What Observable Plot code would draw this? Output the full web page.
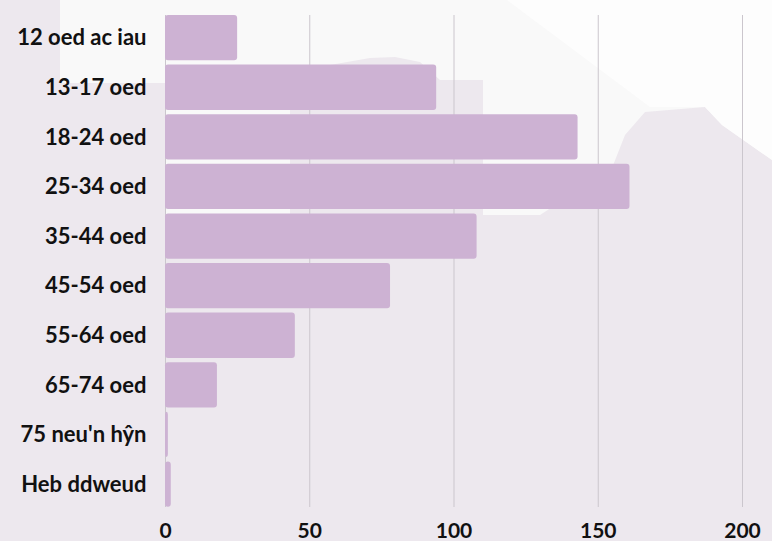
<!DOCTYPE html>
<html>
<head>
<meta charset="utf-8">
<script src="https://cdn.jsdelivr.net/npm/d3@7"></script>
<script src="https://cdn.jsdelivr.net/npm/@observablehq/plot@0.6"></script>
<style>
  html, body { margin: 0; padding: 0; }
  body { width: 772px; height: 541px; background: #ede8ee; position: relative; overflow: hidden; }
  #bg { position: absolute; left: 0; top: 0; width: 772px; height: 541px; background: #f9f9f9;
    clip-path: polygon(60px 0, 772px 0, 772px 160px, 722px 125px, 705px 107px, 645px 112px, 625px 135px, 612px 168px, 540px 215px, 483px 215px, 483px 80px, 440px 80px, 420px 62px, 395px 57px, 370px 58px, 330px 65px, 290px 80px, 290px 215px, 165px 215px, 165px 83px, 60px 83px); }
  #bg2 { position: absolute; left: 0; top: 0; width: 772px; height: 541px; background: #fdfdfd;
    clip-path: polygon(507px 0, 772px 0, 772px 160px, 722px 125px, 705px 107px, 650px 107px); }
  #chart { position: absolute; left: 0; top: 0; }
</style>
</head>
<body>
<div id="bg"></div>
<div id="bg2"></div>
<div id="chart"></div>
<script>
const categories = ["12 oed ac iau", "13-17 oed", "18-24 oed", "25-34 oed", "35-44 oed", "45-54 oed", "55-64 oed", "65-74 oed", "75 neu'n hŷn", "Heb ddweud"];
const counts = [25, 94, 143, 161, 108, 78, 45, 18, 1, 2];
const xTicks = [0, 50, 100, 150, 200];

const data = categories.map((c, i) => ({category: c, count: counts[i]}));

const chart = Plot.plot({
  width: 772,
  height: 541,
  marginLeft: 165,
  marginRight: 30,
  marginTop: 15,
  marginBottom: 30,
  style: {background: "transparent", fontFamily: "Lato, sans-serif", fontWeight: 700, fontSize: "21px", color: "#111"},
  x: {domain: [0, 200], ticks: xTicks, label: null, tickSize: 0, tickPadding: 12},
  y: {domain: categories, label: null, tickSize: 0, tickPadding: 19, padding: 0, round: false},
  marks: [
    Plot.gridX(xTicks, {stroke: "#cbc6cd", strokeOpacity: 1, insetBottom: 4}),
    Plot.barX(data, {x: "count", y: "category", fill: "#cdb2d3", rx: 3, insetTop: 0, insetBottom: 4.3}),
    Plot.axisX({ticks: xTicks, tickSize: 0, tickPadding: 12, label: null, fontSize: 21, fontWeight: 700}),
    Plot.axisY({tickSize: 0, tickPadding: 19, label: null, fontSize: 22, fontWeight: 700, dy: -2})
  ]
});
document.getElementById("chart").appendChild(chart);
</script>
</body>
</html>
